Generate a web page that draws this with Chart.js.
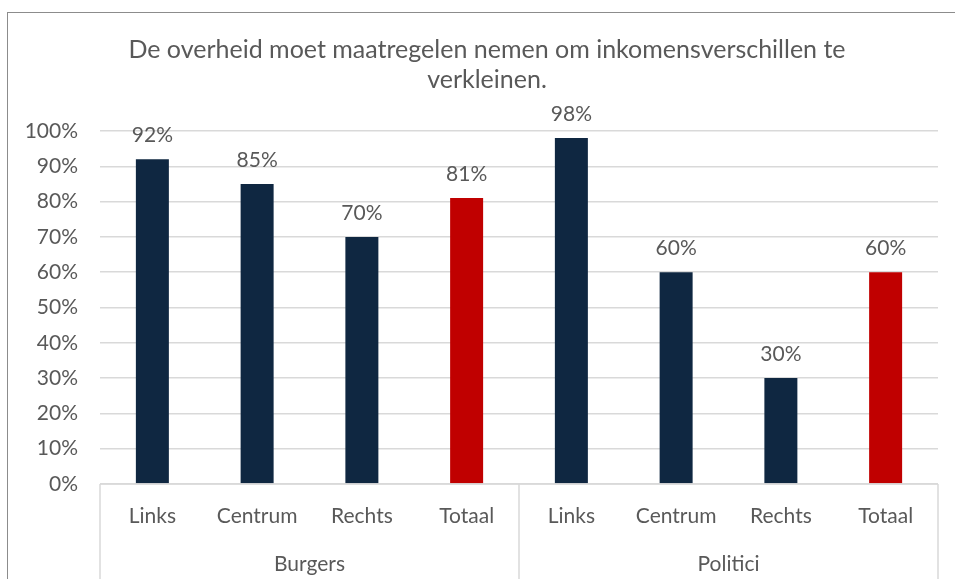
<!DOCTYPE html>
<html>
<head>
<meta charset="utf-8">
<script src="https://cdn.jsdelivr.net/npm/chart.js@4"></script>
<style>
  body { margin: 0; background: #fff; }
  #wrap { position: relative; width: 955px; height: 579px; overflow: hidden; }
  #frame { position: absolute; left: 7px; top: 12px; width: 1000px; height: 1000px; border: 1px solid #8c8c8c; }
  canvas { position: absolute; left: 0; top: 0; }
</style>
</head>
<body>
<div id="wrap">
  <div id="frame"></div>
  <canvas id="canvas" width="955" height="579"></canvas>
</div>
<script>
var categories = ["Links", "Centrum", "Rechts", "Totaal", "Links", "Centrum", "Rechts", "Totaal"];
var groups = ["Burgers", "Politici"];
var values = [92, 85, 70, 81, 98, 60, 30, 60];
var barColors = ["#0f2741", "#0f2741", "#0f2741", "#c00000", "#0f2741", "#0f2741", "#0f2741", "#c00000"];
var titleLines = ["De overheid moet maatregelen nemen om inkomensverschillen te", "verkleinen."];

var textColor = "#595959";
var gridColor = "#d9d9d9";
var fontFamily = "Lato, 'Open Sans', sans-serif";

// value labels above each bar
var valueLabels = {
    id: 'valueLabels',
    afterDatasetsDraw: function(chart) {
        var ctx = chart.ctx;
        var meta = chart.getDatasetMeta(0);
        ctx.save();
        ctx.fillStyle = textColor;
        ctx.font = "21px " + fontFamily;
        ctx.textAlign = "center";
        ctx.textBaseline = "middle";
        meta.data.forEach(function(bar, i) {
            ctx.fillText(values[i] + "%", bar.x, bar.y - 24);
        });
        ctx.restore();
    }
};

// box lines of the grouped category axis
var groupLines = {
    id: 'groupLines',
    afterDraw: function(chart) {
        var ctx = chart.ctx;
        var x = chart.scales.x;
        var area = chart.chartArea;
        var mid = (x.getPixelForValue(3) + x.getPixelForValue(4)) / 2;
        ctx.save();
        ctx.strokeStyle = gridColor;
        ctx.lineWidth = 1.5;
        ctx.beginPath();
        ctx.moveTo(x.left, area.bottom);
        ctx.lineTo(x.right, area.bottom);
        [x.left, mid, x.right].forEach(function(px) {
            ctx.moveTo(px, area.bottom);
            ctx.lineTo(px, chart.height);
        });
        ctx.stroke();
        ctx.restore();
    }
};

// the title sits a little right of the canvas centre
var titleShift = {
    id: 'titleShift',
    afterLayout: function(chart) {
        if (chart.titleBlock) {
            chart.titleBlock.left += 8;
            chart.titleBlock.right += 8;
        }
    }
};

var config = {
    type: 'bar',
    data: {
        labels: categories,
        datasets: [{
            data: values,
            backgroundColor: barColors,
            barPercentage: 0.63,
            categoryPercentage: 0.5
        }]
    },
    options: {
        responsive: false,
        animation: false,
        layout: { padding: { left: 20, right: 17, top: 0, bottom: 0 } },
        plugins: {
            legend: { display: false },
            tooltip: { enabled: false },
            title: {
                display: true,
                text: titleLines,
                color: textColor,
                font: { family: fontFamily, size: 25, weight: 'normal', lineHeight: 1.2 },
                padding: { top: 35, bottom: 36 }
            }
        },
        scales: {
            x: {
                grid: { display: false },
                border: { display: false },
                ticks: { color: textColor, font: { family: fontFamily, size: 21 }, padding: 12 },
                afterFit: function(scale) { scale.height = 50; }
            },
            x2: {
                type: 'category',
                labels: groups,
                position: 'bottom',
                offset: true,
                grid: { display: false },
                border: { display: false },
                ticks: { color: textColor, font: { family: fontFamily, size: 21 }, padding: 10 },
                afterFit: function(scale) { scale.height = 45; }
            },
            y: {
                min: 0,
                max: 1,
                ticks: {
                    stepSize: 0.1,
                    color: textColor,
                    font: { family: fontFamily, size: 21 },
                    padding: 22,
                    callback: function(v) { return Math.round(v * 100) + "%"; }
                },
                grid: { color: gridColor, lineWidth: 1.5, drawTicks: false },
                border: { display: false },
                afterFit: function(scale) { scale.width = 80; }
            }
        }
    },
    plugins: [valueLabels, groupLines, titleShift]
};

// values are percentages, the axis runs 0..1
config.data.datasets[0].data = values.map(function(v) { return v / 100; });

window.onload = function() {
    window.myBar = new Chart(document.getElementById("canvas"), config);
};
</script>
</body>
</html>
